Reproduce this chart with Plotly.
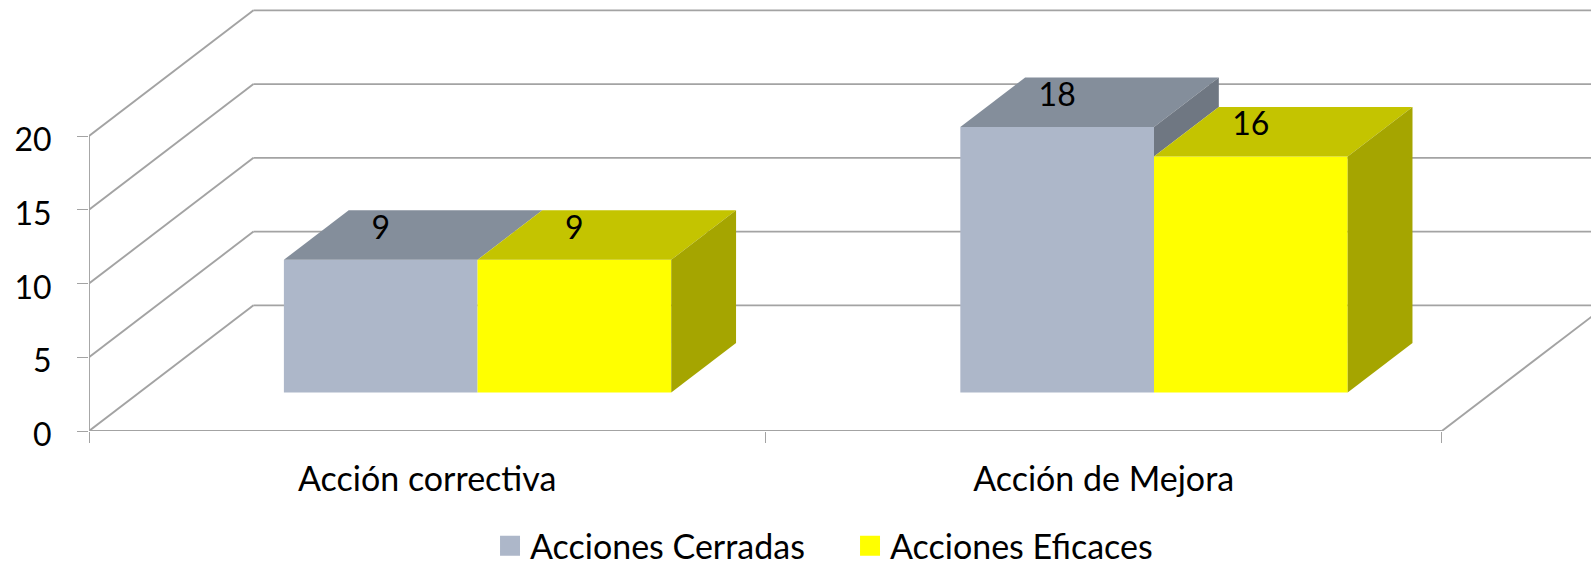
import plotly.graph_objects as go

categories = ["Acción correctiva", "Acción de Mejora"]
series_names = ["Acciones Cerradas", "Acciones Eficaces"]
cerradas = [9, 18]
eficaces = [9, 16]
y_ticks = [0, 5, 10, 15, 20]
front_colors = ["#ADB7C9", "#FFFF00"]
top_colors = ["#848E9B", "#C4C400"]
side_colors = ["#6F7782", "#A5A500"]
GRID = "#A3A3A3"
FONT = "Lato"
TEXT_SIZE = 34
DIGIT_SIZE = 32

# oblique projection of the depth axis, in axis units
DX, DY = 0.2432, 8.52
Z_FRONT, Z_BACK = 0.306, 0.70
BAR_W = 0.2863
X_MAX = (1591 - 89.3) / 676.3
Y_TOP = 431 / 14.75

series = [cerradas, eficaces]
centers = [i + 0.5 for i in range(len(categories))]
shift = Z_FRONT * DX
base = Z_FRONT * DY
bdx = (Z_BACK - Z_FRONT) * DX
bdy = (Z_BACK - Z_FRONT) * DY

fig = go.Figure()
shapes = []
line = dict(color=GRID, width=1.9)


def seg(x0, y0, x1, y1):
    shapes.append(dict(type="line", xref="x", yref="y", x0=x0, y0=y0, x1=x1, y1=y1,
                       line=line, layer="below"))


for v in y_ticks:
    seg(0, v, DX, v + DY)
    seg(DX, v + DY, X_MAX, v + DY)
seg(0, 0, 0, y_ticks[-1])
seg(0, 0, len(categories), 0)
seg(len(categories), 0, len(categories) + DX, DY)

for s, vals in enumerate(series):
    fig.add_trace(go.Bar(
        x=centers, y=vals, base=[base] * len(vals), width=BAR_W,
        offset=shift + (s - 1) * BAR_W, marker=dict(color=front_colors[s], line=dict(width=0)),
        showlegend=False, hoverinfo="skip"))

for s, vals in enumerate(series):
    for c, v in zip(centers, vals):
        x0 = c + shift + (s - 1) * BAR_W
        x1 = x0 + BAR_W
        top = base + v
        fig.add_trace(go.Scatter(
            x=[x0, x0 + bdx, x1 + bdx, x1, x0], y=[top, top + bdy, top + bdy, top, top],
            mode="lines", fill="toself", fillcolor=top_colors[s], line=dict(width=0),
            showlegend=False, hoverinfo="skip"))
        # a side face is only seen where the next series does not hide it
        idx = centers.index(c)
        low = base + series[s + 1][idx] if s + 1 < len(series) else base
        if top > low:
            fig.add_trace(go.Scatter(
                x=[x1, x1 + bdx, x1 + bdx, x1, x1],
                y=[top, top + bdy, low + bdy, low, top],
                mode="lines", fill="toself", fillcolor=side_colors[s], line=dict(width=0),
                showlegend=False, hoverinfo="skip"))

for s, vals in enumerate(series):
    fig.add_trace(go.Scatter(
        x=[c + shift + (s - 0.5) * BAR_W for c in centers],
        y=[base + v + 0.59 * bdy for v in vals],
        mode="text", text=[str(v) for v in vals], textposition="middle center",
        textfont=dict(family=FONT, size=DIGIT_SIZE, color="#000000"),
        showlegend=False, hoverinfo="skip"))

for s, name in enumerate(series_names):
    fig.add_trace(go.Scatter(
        x=[None], y=[None], mode="markers", name=name,
        marker=dict(symbol="square", size=16, color=front_colors[s],
                    line=dict(color=front_colors[s], width=4))))

fig.update_layout(
    width=1591, height=566,
    margin=dict(l=89.3, r=0, t=0, b=135, autoexpand=False),
    paper_bgcolor="white", plot_bgcolor="white",
    shapes=shapes,
    barmode="overlay",
    font=dict(family=FONT, size=TEXT_SIZE, color="#000000"),
    legend=dict(orientation="h", x=0.267, xanchor="left", y=-0.2, yanchor="top",
                entrywidth=315, entrywidthmode="pixels",
                font=dict(family=FONT, size=TEXT_SIZE, color="#000000"),
                bgcolor="rgba(0,0,0,0)"),
    xaxis=dict(range=[0, X_MAX], tickmode="array", tickvals=centers, ticktext=categories,
               ticks="outside", ticklen=0, showgrid=False, zeroline=False, showline=False,
               minor=dict(tickmode="array", tickvals=[0, 1, 2], ticks="outside", ticklen=11,
                          tickcolor=GRID, tickwidth=1, showgrid=False),
               tickfont=dict(family=FONT, size=TEXT_SIZE), ticklabelstandoff=18),
    yaxis=dict(range=[0, Y_TOP], tickmode="array", tickvals=y_ticks,
               ticks="outside", ticklen=11, tickcolor=GRID, tickwidth=1, showgrid=False,
               zeroline=False, showline=False, ticklabelstandoff=19, ticklabelshift=4,
               tickfont=dict(family=FONT, size=DIGIT_SIZE)),
)

fig.write_html("out.html", post_script="document.body.style.margin='0';",
               config=dict(displayModeBar=False))
